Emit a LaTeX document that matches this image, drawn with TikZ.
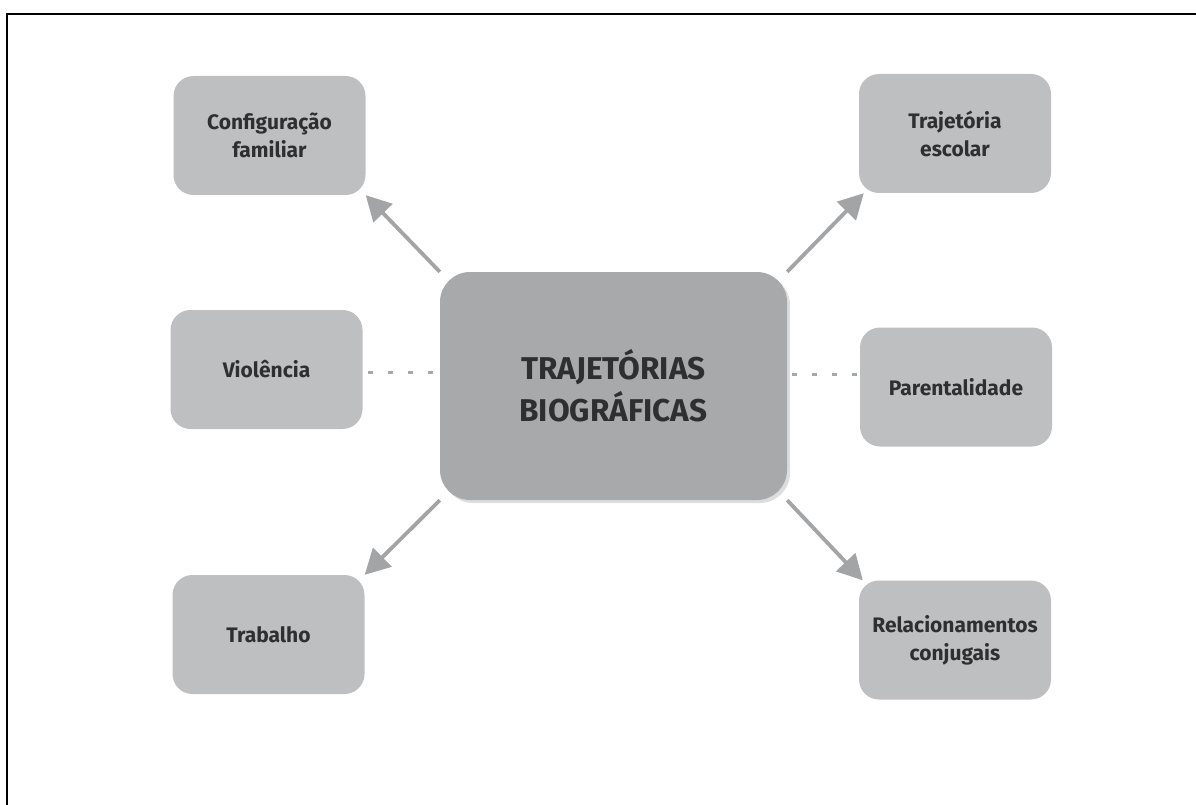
\documentclass[tikz,border=0pt]{standalone}
\usepackage{fontspec}
\setmainfont{Fira Sans}
\usetikzlibrary{arrows.meta,backgrounds,shadows}
\definecolor{boxgray}{HTML}{BEBFC1}
\definecolor{centergray}{HTML}{A8A9AB}
\definecolor{arrowgray}{HTML}{A3A4A6}
\definecolor{dashgray}{HTML}{A6A7A9}
\definecolor{txt}{HTML}{2E2F31}
\definecolor{shadowgray}{HTML}{DCDDDE}
\begin{document}
\begin{tikzpicture}[x=1pt,y=-1pt,
  smallbox/.style={rectangle, rounded corners=20pt, fill=boxgray, minimum width=192pt, minimum height=119pt,
    text=txt, font=\bfseries\fontsize{21}{28}\selectfont, align=center, inner sep=0pt},
  centerbox/.style={rectangle, rounded corners=30pt, fill=centergray, minimum width=347pt, minimum height=228pt,
    text=txt, font=\bfseries\fontsize{31.5}{42}\selectfont, align=center, inner sep=0pt,
    drop shadow={shadow xshift=3pt, shadow yshift=-3pt, fill=shadowgray, opacity=1}},
  arrowline/.style={draw=arrowgray, line width=3.8pt, -{Triangle[length=25pt, width=26pt]}},
  dashline/.style={draw=dashgray, line width=3pt, dash pattern=on 5pt off 15pt}
]
\useasboundingbox (0,0) rectangle (1196,805);
\draw[line width=2pt] (7,805) -- (7,14) -- (1196,14);

\node[centerbox] (center) at (613.5,386) {TRAJETÓRIAS\\BIOGRÁFICAS};
\node[smallbox] (conf) at (269.5,135.5) {Configuração\\familiar};
\node[smallbox] (esc) at (955,133.5) {Trajetória\\escolar};
\node[smallbox] (viol) at (266.5,369.5) {Violência};
\node[smallbox] (par) at (956,387) {Parentalidade};
\node[smallbox] (trab) at (268.5,634.5) {Trabalho};
\node[smallbox] (rel) at (955,640) {Relacionamentos\\conjugais};

\begin{pgfonlayer}{background}
\draw[arrowline] (center.north west) -- (conf.south east);
\draw[arrowline] (center.north east) -- ([xshift=5pt]esc.south west);
\draw[arrowline] (center.south west) -- (trab.north east);
\draw[arrowline] (center.south east) -- ([xshift=4pt]rel.north west);
\end{pgfonlayer}

\draw[dashline] ([xshift=5pt,yshift=-2.5pt]viol.east) -- ([yshift=-2.5pt]viol.east -| center.west);
\draw[dashline] ([xshift=5pt,yshift=13pt]center.east |- par.west) -- ([yshift=13pt]par.west);
\end{tikzpicture}
\end{document}
